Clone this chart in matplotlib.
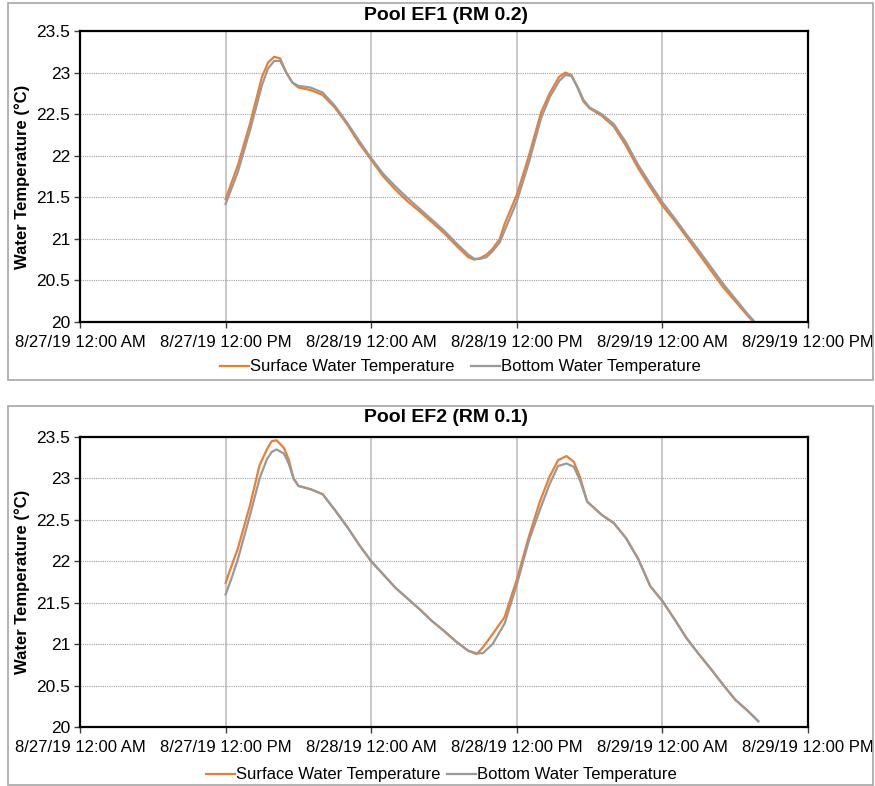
import matplotlib
matplotlib.use('Agg')
import matplotlib.pyplot as plt
from matplotlib.patches import Rectangle
from matplotlib.lines import Line2D

plt.rcParams['font.family'] = ['Liberation Sans', 'DejaVu Sans']

# hours since 8/27/19 12:00 AM
ef1_hours = [12, 13, 14, 15, 15.5, 16, 16.5, 17, 17.5, 18, 19, 20, 21, 22, 23, 24,
             25, 26, 27, 28, 29, 30, 31, 32, 32.5, 33, 33.5, 34, 34.6, 35, 36, 37,
             38, 38.7, 39.5, 40, 40.5, 41, 41.5, 42, 43, 44, 45, 46, 47, 48, 49, 50,
             51, 52, 53, 54, 55, 55.5]
ef1_surface = [21.48, 21.88, 22.38, 22.95, 23.12, 23.19, 23.17, 23.00, 22.88, 22.82,
               22.79, 22.73, 22.58, 22.38, 22.15, 21.95, 21.75, 21.59, 21.45, 21.33,
               21.20, 21.07, 20.92, 20.78, 20.75, 20.77, 20.81, 20.88, 21.00, 21.18,
               21.53, 22.00, 22.52, 22.75, 22.95, 23.00, 22.97, 22.82, 22.65, 22.57,
               22.48, 22.35, 22.12, 21.85, 21.62, 21.40, 21.22, 21.02, 20.82, 20.62,
               20.42, 20.25, 20.08, 20.00]
ef1_bottom = [21.42, 21.80, 22.30, 22.85, 23.05, 23.14, 23.14, 23.00, 22.88, 22.84,
              22.82, 22.76, 22.60, 22.40, 22.18, 21.97, 21.78, 21.63, 21.49, 21.36,
              21.23, 21.10, 20.95, 20.81, 20.76, 20.76, 20.78, 20.85, 20.96, 21.10,
              21.45, 21.92, 22.45, 22.70, 22.90, 22.97, 22.96, 22.83, 22.67, 22.58,
              22.50, 22.38, 22.16, 21.89, 21.66, 21.44, 21.25, 21.05, 20.86, 20.66,
              20.46, 20.28, 20.10, 20.02]

ef2_hours = [12, 12.5, 13, 14, 14.8, 15.4, 15.8, 16.2, 16.8, 17.2, 17.6, 18, 19, 20,
             21, 22, 23, 24, 25, 26, 27, 28, 29, 30, 31, 32, 32.7, 33.2, 34, 35, 36,
             37, 37.9, 38.7, 39.4, 40.1, 40.7, 41.2, 41.8, 43, 44, 45, 46, 47, 48,
             49, 50, 51, 52, 53, 54, 55, 55.9]
ef2_surface = [21.74, 21.95, 22.15, 22.67, 23.16, 23.35, 23.45, 23.46, 23.37, 23.23,
               23.00, 22.91, 22.87, 22.81, 22.62, 22.42, 22.20, 22.00, 21.84, 21.68,
               21.55, 21.42, 21.28, 21.16, 21.03, 20.92, 20.88, 20.96, 21.12, 21.33,
               21.78, 22.30, 22.72, 23.02, 23.22, 23.27, 23.20, 23.02, 22.72, 22.56,
               22.46, 22.28, 22.03, 21.70, 21.52, 21.30, 21.07, 20.88, 20.70, 20.51,
               20.33, 20.20, 20.07]
ef2_bottom = [21.60, 21.80, 22.02, 22.55, 23.00, 23.23, 23.32, 23.35, 23.30, 23.18,
              23.00, 22.91, 22.87, 22.81, 22.62, 22.42, 22.20, 22.00, 21.84, 21.68,
              21.55, 21.42, 21.28, 21.16, 21.03, 20.92, 20.89, 20.89, 21.00, 21.25,
              21.72, 22.25, 22.62, 22.93, 23.15, 23.18, 23.14, 22.98, 22.72, 22.56,
              22.46, 22.28, 22.03, 21.70, 21.52, 21.30, 21.07, 20.88, 20.70, 20.51,
              20.33, 20.20, 20.07]

tick_hours = [0, 12, 24, 36, 48, 60]
tick_labels = ['8/27/19 12:00 AM', '8/27/19 12:00 PM', '8/28/19 12:00 AM',
               '8/28/19 12:00 PM', '8/29/19 12:00 AM', '8/29/19 12:00 PM']
y_ticks = [20, 20.5, 21, 21.5, 22, 22.5, 23, 23.5]
y_tick_labels = ['20', '20.5', '21', '21.5', '22', '22.5', '23', '23.5']

SURFACE_COLOR = '#ED7D31'
BOTTOM_COLOR = '#999999'

W, H = 875, 786
fig = plt.figure(figsize=(W / 100, H / 100), dpi=100)


def px_rect(left, top, right, bottom):
    # pixel box -> figure fraction [left, bottom, width, height]
    return [left / W, 1 - bottom / H, (right - left) / W, (bottom - top) / H]


def draw_panel(box, axbox, title, title_y, hours, surface, bottom, legend_y, legend_x, colspace):
    fig.add_artist(Rectangle((box[0], box[1]), box[2], box[3], transform=fig.transFigure,
                             fill=False, edgecolor='#A6A6A6', linewidth=1.2))
    ax = fig.add_axes(axbox)
    ax.plot(hours, surface, color=SURFACE_COLOR, lw=1.6, label='Surface Water Temperature')
    ax.plot(hours, bottom, color=BOTTOM_COLOR, lw=1.6, label='Bottom Water Temperature')
    ax.set_xlim(0, 60)
    ax.set_ylim(20, 23.5)
    ax.set_xticks(tick_hours)
    ax.set_xticklabels(tick_labels, fontsize=12)
    ax.set_yticks(y_ticks)
    ax.set_yticklabels(y_tick_labels, fontsize=12.5)
    ax.tick_params(axis='x', length=4, width=1, pad=5, colors='#404040', labelcolor='black')
    ax.tick_params(axis='y', length=4, width=1, pad=3, colors='#404040', labelcolor='black')
    ax.grid(axis='x', color='#BFBFBF', linestyle='-', linewidth=1.2)
    ax.grid(axis='y', color='#A0A0A0', linestyle=(0, (1, 1)), linewidth=0.8)
    ax.set_axisbelow(True)
    for s in ax.spines.values():
        s.set_color('black')
        s.set_linewidth(1.6)
    ax.set_ylabel('Water Temperature (°C)', fontsize=12, fontweight='bold')
    ax.yaxis.set_label_coords(-0.068, 0.5)
    fig.text(446 / W, 1 - title_y / H, title, ha='center', va='center',
             fontsize=14, fontweight='bold')
    handles = [Line2D([], [], color=SURFACE_COLOR, lw=1.6),
               Line2D([], [], color=BOTTOM_COLOR, lw=1.6)]
    fig.legend(handles, ['Surface Water Temperature', 'Bottom Water Temperature'],
               loc='center', bbox_to_anchor=(legend_x / W, 1 - legend_y / H), ncol=2,
               frameon=False, fontsize=12, handlelength=1.75, handletextpad=0.05,
               columnspacing=colspace, borderaxespad=0, borderpad=0)
    return ax


# upper panel: Pool EF1
draw_panel(px_rect(8, 3, 873, 380), px_rect(80, 31, 808, 322), 'Pool EF1 (RM 0.2)', 16,
           ef1_hours, ef1_surface, ef1_bottom, 367, 460, 1.0)

# lower panel: Pool EF2
draw_panel(px_rect(8, 406, 873, 785), px_rect(80, 437, 808, 727), 'Pool EF2 (RM 0.1)', 418,
           ef2_hours, ef2_surface, ef2_bottom, 775, 441, 0.4)

fig.savefig('out.png', dpi=100)
